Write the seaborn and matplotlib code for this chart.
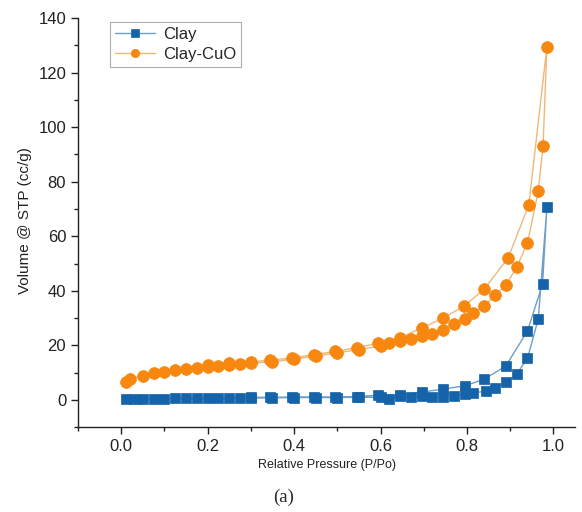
import numpy as np
import pandas as pd
import matplotlib
matplotlib.use("Agg")
import matplotlib.pyplot as plt
import seaborn as sns
from matplotlib.ticker import MultipleLocator

# Clay: adsorption branch then desorption branch
clay_ads_p = [0.01, 0.03, 0.05, 0.075, 0.1, 0.125, 0.15, 0.175, 0.2, 0.225, 0.25, 0.275, 0.3,
              0.35, 0.4, 0.45, 0.5, 0.55, 0.6, 0.62, 0.645, 0.67, 0.695, 0.72, 0.745, 0.77,
              0.795, 0.815, 0.845, 0.865, 0.89, 0.915, 0.94, 0.965, 0.985]
clay_ads_v = [0.3, 0.4, 0.5, 0.5, 0.5, 0.6, 0.6, 0.6, 0.6, 0.6, 0.7, 0.7, 0.7,
              0.8, 0.9, 0.9, 0.9, 1.0, 1.0, 0.5, 1.5, 1.1, 1.4, 1.1, 1.1, 1.5,
              2.2, 2.6, 3.3, 4.4, 6.6, 9.5, 15.3, 29.7, 70.7]
clay_des_p = [0.975, 0.94, 0.89, 0.84, 0.795, 0.745, 0.695, 0.645, 0.595, 0.545, 0.495,
              0.445, 0.395, 0.345, 0.3]
clay_des_v = [42.5, 25.3, 12.5, 7.6, 5.2, 4.0, 2.9, 1.8, 1.8, 1.2, 1.1,
              1.1, 1.1, 1.0, 1.0]

# Clay-CuO
cuo_ads_p = [0.01, 0.02, 0.05, 0.075, 0.1, 0.125, 0.15, 0.175, 0.2, 0.225, 0.25, 0.275, 0.3,
             0.35, 0.4, 0.45, 0.5, 0.55, 0.6, 0.62, 0.645, 0.67, 0.695, 0.72, 0.745, 0.77,
             0.795, 0.815, 0.84, 0.865, 0.89, 0.915, 0.94, 0.965, 0.976, 0.985]
cuo_ads_v = [6.6, 7.8, 8.8, 9.9, 10.3, 11.0, 11.3, 11.8, 12.1, 12.6, 12.8, 13.3, 13.5,
             14.0, 15.0, 16.1, 17.3, 18.5, 19.8, 20.8, 21.5, 22.3, 23.4, 24.2, 25.6, 27.8,
             29.7, 32.0, 34.4, 38.5, 42.1, 48.7, 57.5, 76.6, 93.0, 129.5]
cuo_des_p = [0.943, 0.895, 0.84, 0.793, 0.745, 0.695, 0.645, 0.595, 0.545, 0.495,
             0.445, 0.395, 0.345, 0.3, 0.25, 0.2]
cuo_des_v = [71.4, 52.0, 40.7, 34.4, 30.0, 26.4, 22.8, 20.8, 19.2, 17.8,
             16.6, 15.4, 14.6, 14.0, 13.6, 12.8]

x_ticks = [0.0, 0.2, 0.4, 0.6, 0.8, 1.0]
y_ticks = [0, 20, 40, 60, 80, 100, 120, 140]

sns.set_style("white")
plt.rcParams['font.family'] = ['Liberation Sans', 'DejaVu Sans']

fig = plt.figure(figsize=(5.82, 5.12), dpi=100)
ax = fig.add_axes([0.134, 0.1654, 0.854, 0.7995])

series = [
    ("Clay", clay_ads_p + clay_des_p, clay_ads_v + clay_des_v, "s", "#1563a8", "#6f9fc8", 7.0),
    ("Clay-CuO", cuo_ads_p + cuo_des_p, cuo_ads_v + cuo_des_v, "o", "#f7870f", "#f0b878", 8.5),
]
for name, p, v, mk, mcol, lcol, ms in series:
    df = pd.DataFrame({"p": p, "v": v})
    sns.lineplot(data=df, x="p", y="v", sort=False, estimator=None, ax=ax, color=lcol, lw=1.0,
                 marker=mk, markersize=ms, markerfacecolor=mcol, markeredgecolor=mcol,
                 markeredgewidth=0.5, label=name)

ax.set_xlim(-0.1, 1.05)
ax.set_ylim(-10, 140)
ax.set_xticks(x_ticks)
ax.set_xticklabels([f"{t:.1f}" for t in x_ticks])
ax.set_yticks(y_ticks)
ax.xaxis.set_minor_locator(MultipleLocator(0.1))
ax.yaxis.set_minor_locator(MultipleLocator(10))
for s in ["top", "right"]:
    ax.spines[s].set_visible(False)
for s in ["left", "bottom"]:
    ax.spines[s].set_color("#222222")
    ax.spines[s].set_linewidth(1.0)
ax.tick_params(which="major", direction="out", length=5, width=1, color="#222222",
               labelsize=12, labelcolor="#222222", bottom=True, left=True)
ax.tick_params(which="minor", direction="out", length=3, width=1, color="#222222",
               bottom=True, left=True)
ax.set_xlabel("Relative Pressure (P/Po)", fontsize=9, color="#222222")
ax.set_ylabel("Volume @ STP (cc/g)", fontsize=11, color="#222222")
ax.xaxis.set_label_coords(0.501, -0.0775)
ax.yaxis.set_label_coords(-0.093, 0.506)

leg = ax.legend(loc="upper left", bbox_to_anchor=(0.064, 0.99), borderaxespad=0,
                fontsize=12, frameon=True, fancybox=False, edgecolor="#999999",
                handlelength=2.4, borderpad=0.3, labelspacing=0.3, handletextpad=0.5)
leg.get_frame().set_linewidth(0.8)
for h in leg.legend_handles:
    h.set_markersize(6)

fig.text(0.487, 0.029, "(a)", ha="center", va="center", fontsize=13.5,
         family=["Liberation Serif", "DejaVu Serif"])

fig.savefig("out.png", dpi=100)
